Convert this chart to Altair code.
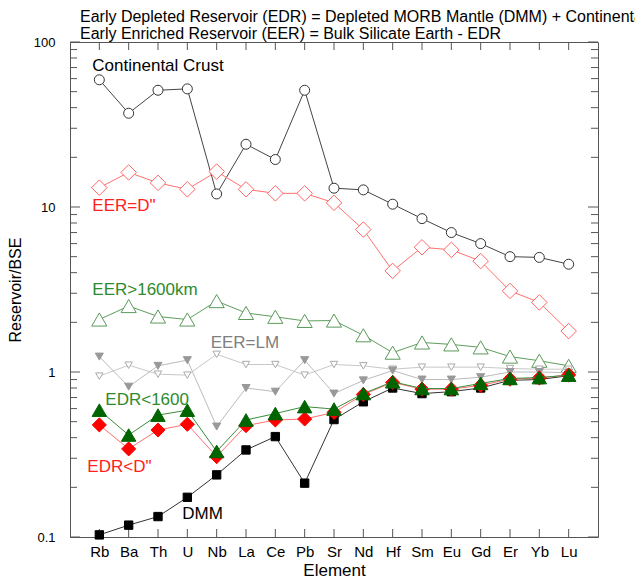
import altair as alt
import pandas as pd

elements = ["Rb", "Ba", "Th", "U", "Nb", "La", "Ce", "Pb", "Sr",
            "Nd", "Hf", "Sm", "Eu", "Gd", "Er", "Yb", "Lu"]

continental_crust = [59, 37, 51, 52, 12, 24, 19.4, 51, 13, 12.7, 10.4, 8.5, 7.0, 6.0, 5.0, 4.95, 4.5]
eer_d2 = [13.1, 16.2, 14.0, 12.8, 16.4, 12.8, 12.1, 12.1, 10.6, 7.3, 4.1, 5.7, 5.5, 4.7, 3.1, 2.64, 1.77]
eer_1600 = [2.08, 2.51, 2.17, 2.08, 2.69, 2.28, 2.16, 2.04, 2.05, 1.67, 1.31, 1.51, 1.47, 1.41, 1.24, 1.17, 1.09]
eer_lm = [0.944, 1.10, 0.97, 0.957, 1.28, 1.11, 1.11, 0.957, 1.11, 1.09, 1.04, 1.07, 1.07, 1.07, 1.05, 1.04, 1.04]
edr_lm = [1.24, 0.815, 1.09, 1.18, 0.467, 0.80, 0.76, 1.18, 0.74, 0.89, 1.02, 0.90, 0.90, 0.93, 1.0, 1.0, 0.99]
edr_1600 = [0.587, 0.415, 0.548, 0.587, 0.33, 0.512, 0.56, 0.617, 0.596, 0.74, 0.873, 0.794, 0.794, 0.853, 0.914, 0.925, 0.957]
edr_d2 = [0.478, 0.342, 0.445, 0.482, 0.307, 0.473, 0.512, 0.519, 0.569, 0.73, 0.865, 0.787, 0.787, 0.83, 0.905, 0.92, 0.96]
dmm = [0.103, 0.118, 0.133, 0.174, 0.238, 0.337, 0.406, 0.212, 0.515, 0.66, 0.80, 0.74, 0.76, 0.80, 0.89, 0.90, 0.95]

label_text = ["Continental Crust", 'EER=D"', "EER>1600km", "EER=LM", "EDR<1600", 'EDR<D"', "DMM"]
label_element = ["Rb", "Rb", "Rb", "Nb", "Rb", "Rb", "U"]
label_value = [72, 10.2, 3.12, 1.49, 0.672, 0.267, 0.137]
label_dx = [-7, -7, -7, -6, 6, -12, -5]
label_color = ["#000000", "#FF2020", "#2E8B2E", "#808080", "#2E8B2E", "#FF2020", "#000000"]

major_ticks = [0.1, 1, 10, 100]
minor_ticks = [0.2, 0.3, 0.4, 0.5, 0.6, 0.7, 0.8, 0.9,
               2, 3, 4, 5, 6, 7, 8, 9,
               20, 30, 40, 50, 60, 70, 80, 90]

W, H = 528, 495
FONT = "Liberation Sans"

xscale = alt.Scale(type="point", domain=elements, padding=1)
yscale = alt.Scale(type="log", domain=[0.1, 100], nice=False)

xenc = alt.X("element:N", scale=xscale,
             axis=alt.Axis(title="Element", labelAngle=0, ticks=False, tickSize=0, domain=False,
                           labelPadding=7, labelFontSize=15, titleFontSize=17, titlePadding=3,
                           labelFont=FONT, titleFont=FONT, labelColor="#000", titleColor="#000",
                           titleFontWeight="normal"))
yenc = alt.Y("value:Q", scale=yscale,
             axis=alt.Axis(title="Reservoir/BSE", values=major_ticks, format="~g", ticks=False,
                           tickSize=0, domain=False, labelPadding=15, labelFontSize=13,
                           titleFontSize=16, titlePadding=10, labelFont=FONT, titleFont=FONT,
                           labelColor="#000", titleColor="#000", titleFontWeight="normal"))


def series(values, line_color, shape, size, fill, stroke, sw=1.0):
    df = pd.DataFrame({"element": elements, "value": values})
    base = alt.Chart(df).encode(x=xenc, y=yenc)
    line = base.mark_line(color=line_color, strokeWidth=1)
    pts = base.mark_point(shape=shape, size=size, fill=fill, stroke=stroke,
                          strokeWidth=sw, filled=False, opacity=1, fillOpacity=1)
    return line + pts


layers = [
    series(continental_crust, "#444444", "circle", 100, "white", "#333333"),
    series(eer_d2, "#FF7070", "diamond", 240, "white", "#FF6666"),
    series(eer_1600, "#5E9E5E", "triangle-up", 230, "white", "#5A9A5A"),
    series(eer_lm, "#C8C8C8", "triangle-down", 55, "white", "#AAAAAA"),
    series(edr_lm, "#BBBBBB", "triangle-down", 65, "#999999", "#999999"),
    series(dmm, "#333333", "square", 70, "#000000", "#000000"),
    series(edr_d2, "#FF7070", "diamond", 200, "#FF0000", "#FF0000"),
    series(edr_1600, "#3C8C3C", "triangle-up", 210, "#006400", "#006400"),
]

labels_df = pd.DataFrame({"element": label_element, "value": label_value,
                          "text": label_text, "dx": label_dx, "color": label_color})
label_layers = []
for i in range(len(label_text)):
    sub = labels_df.iloc[[i]]
    label_layers.append(
        alt.Chart(sub).mark_text(align="left", baseline="middle", fontSize=17, font=FONT,
                                 dx=int(label_dx[i]), color=label_color[i])
        .encode(x=xenc, y=yenc, text="text:N")
    )

major_df = pd.DataFrame({"value": major_ticks})
minor_df = pd.DataFrame({"value": minor_ticks})
elem_df = pd.DataFrame({"element": elements})
tick_color = "#555555"

tick_layers = [
    alt.Chart(major_df).mark_rule(color=tick_color, strokeWidth=1).encode(y=yenc, x=alt.value(0), x2=alt.value(10)),
    alt.Chart(minor_df).mark_rule(color=tick_color, strokeWidth=1).encode(y=yenc, x=alt.value(0), x2=alt.value(7)),
    alt.Chart(major_df).mark_rule(color=tick_color, strokeWidth=1).encode(y=yenc, x=alt.value(W - 10), x2=alt.value(W)),
    alt.Chart(minor_df).mark_rule(color=tick_color, strokeWidth=1).encode(y=yenc, x=alt.value(W - 7), x2=alt.value(W)),
    alt.Chart(elem_df).mark_rule(color=tick_color, strokeWidth=1).encode(x=xenc, y=alt.value(0), y2=alt.value(8)),
    alt.Chart(elem_df).mark_rule(color=tick_color, strokeWidth=1).encode(x=xenc, y=alt.value(H - 8), y2=alt.value(H)),
]

title = alt.TitleParams(
    text=["Early Depleted Reservoir (EDR) = Depleted MORB Mantle (DMM) + Continental Crust",
          "Early Enriched Reservoir (EER) = Bulk Silicate Earth - EDR"],
    anchor="start", frame="group", dx=10, offset=-6, fontSize=16, lineHeight=17,
    font=FONT, fontWeight="normal", color="#000000",
)

chart = alt.layer(*tick_layers, *layers, *label_layers).properties(
    width=W, height=H, title=title,
    autosize=alt.AutoSizeParams(type="none"),
    padding={"left": 70, "top": 42, "right": 37, "bottom": 43},
).configure_view(stroke="#555555", strokeWidth=1).configure_axis(grid=False)

chart.save("out.html", embed_options={"renderer": "svg", "actions": False})
